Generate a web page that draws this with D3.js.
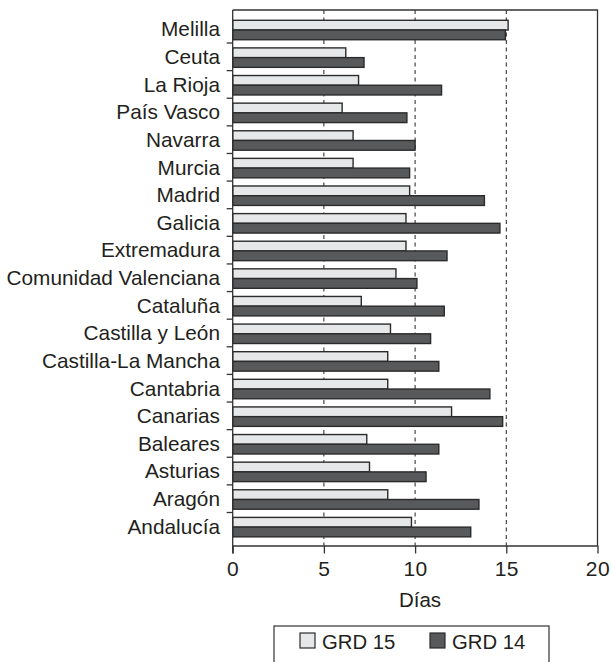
<!DOCTYPE html>
<html>
<head>
<meta charset="utf-8">
<script src="https://cdn.jsdelivr.net/npm/d3@7"></script>
<style>
  html, body { margin: 0; padding: 0; background: #fff; }
  svg { display: block; }
  text { font-family: "Liberation Sans", Arial, sans-serif; fill: #231f20; }
</style>
</head>
<body>
<svg id="chart" width="612" height="662"></svg>
<script>
// Regions, listed top to bottom
const regions = [
  "Melilla", "Ceuta", "La Rioja", "País Vasco", "Navarra", "Murcia",
  "Madrid", "Galicia", "Extremadura", "Comunidad Valenciana", "Cataluña",
  "Castilla y León", "Castilla-La Mancha", "Cantabria", "Canarias",
  "Baleares", "Asturias", "Aragón", "Andalucía"
];

// Mean stay in days per region
const grd15 = [15.1, 6.2, 6.9, 6.0, 6.6, 6.6, 9.7, 9.5, 9.5, 8.95, 7.05,
               8.65, 8.5, 8.5, 12.0, 7.35, 7.5, 8.5, 9.8];
const grd14 = [14.95, 7.2, 11.45, 9.55, 10.0, 9.7, 13.8, 14.65, 11.75, 10.1, 11.6,
               10.85, 11.3, 14.1, 14.8, 11.3, 10.6, 13.5, 13.05];

const seriesNames = ["GRD 15", "GRD 14"];
const seriesFill = { "GRD 15": "#e6e7e8", "GRD 14": "#58595b" };
const xTicks = [0, 5, 10, 15, 20];
const xTitle = "Días";

const svg = d3.select("#chart");

const plotLeft = 232.7, plotRight = 597.5, plotTop = 10, plotBottom = 545.5;

const x = d3.scaleLinear().domain([0, 20]).range([plotLeft, plotRight]);
const y = d3.scaleBand().domain(regions).range([plotTop, plotBottom])
  .paddingInner(0).paddingOuter(0.195);
const ySub = d3.scaleBand().domain(seriesNames).range([0, y.bandwidth()])
  .paddingInner(0).paddingOuter(0.42).align(0.6);

const rows = regions.map((r, i) => ({ region: r, "GRD 15": grd15[i], "GRD 14": grd14[i] }));

// dashed reference lines
svg.append("g").selectAll("line")
  .data(xTicks.filter(t => t > 0 && t < 20))
  .join("line")
  .attr("x1", d => x(d)).attr("x2", d => x(d))
  .attr("y1", plotTop).attr("y2", plotBottom)
  .attr("stroke", "#231f20").attr("stroke-width", 1)
  .attr("stroke-dasharray", "4,3.5");

// bars
const groups = svg.append("g").selectAll("g")
  .data(rows).join("g")
  .attr("transform", d => `translate(0,${y(d.region)})`);

groups.selectAll("rect")
  .data(d => seriesNames.map(s => ({ s, v: d[s] })))
  .join("rect")
  .attr("x", x(0))
  .attr("y", d => ySub(d.s))
  .attr("width", d => x(d.v) - x(0))
  .attr("height", ySub.bandwidth())
  .attr("fill", d => seriesFill[d.s])
  .attr("stroke", "#2b2b2b")
  .attr("stroke-width", 1.4);

// frame: top and right edges
svg.append("path")
  .attr("d", `M${plotLeft},${plotTop}H${plotRight}V${plotBottom}`)
  .attr("fill", "none").attr("stroke", "#333").attr("stroke-width", 1.3);

// y axis line and ticks between categories
svg.append("line")
  .attr("x1", plotLeft).attr("x2", plotLeft).attr("y1", plotTop).attr("y2", plotBottom + 8)
  .attr("stroke", "#333").attr("stroke-width", 1.3);
svg.append("g").selectAll("line")
  .data(regions.slice(0, -1))
  .join("line")
  .attr("x1", plotLeft - 6).attr("x2", plotLeft)
  .attr("y1", d => y(d) + y.step()).attr("y2", d => y(d) + y.step())
  .attr("stroke", "#333").attr("stroke-width", 1.3);

// category labels
svg.append("g").selectAll("text")
  .data(regions).join("text")
  .attr("x", 220)
  .attr("y", d => y(d) + y.bandwidth() / 2 + 7.3)
  .attr("text-anchor", "end")
  .attr("font-size", 20.8)
  .text(d => d);

// x axis
const xAxis = svg.append("g")
  .attr("transform", `translate(0,${plotBottom})`)
  .call(d3.axisBottom(x).tickValues(xTicks).tickSize(8).tickSizeOuter(0).tickPadding(8));
xAxis.select(".domain").attr("stroke", "#333").attr("stroke-width", 1.3);
xAxis.selectAll(".tick line").attr("stroke", "#333").attr("stroke-width", 1.3);
xAxis.selectAll(".tick text")
  .attr("font-size", 21)
  .attr("font-family", "Liberation Sans, Arial, sans-serif")
  .attr("fill", "#231f20")
  .attr("letter-spacing", 0.5);

svg.append("text")
  .attr("x", 420).attr("y", 606.5)
  .attr("text-anchor", "middle")
  .attr("font-size", 20.5)
  .text(xTitle);

// legend
const legend = svg.append("g");
legend.append("rect")
  .attr("x", 274).attr("y", 626).attr("width", 275).attr("height", 60)
  .attr("fill", "#fff").attr("stroke", "#333").attr("stroke-width", 1.2);
const legendX = { "GRD 15": 300, "GRD 14": 430 };
seriesNames.forEach(s => {
  legend.append("rect")
    .attr("x", legendX[s]).attr("y", 633).attr("width", 15).attr("height", 15)
    .attr("fill", seriesFill[s]).attr("stroke", "#2b2b2b").attr("stroke-width", 1.2);
  legend.append("text")
    .attr("x", legendX[s] + 22).attr("y", 648.5)
    .attr("font-size", 20.3)
    .text(s);
});
</script>
</body>
</html>
